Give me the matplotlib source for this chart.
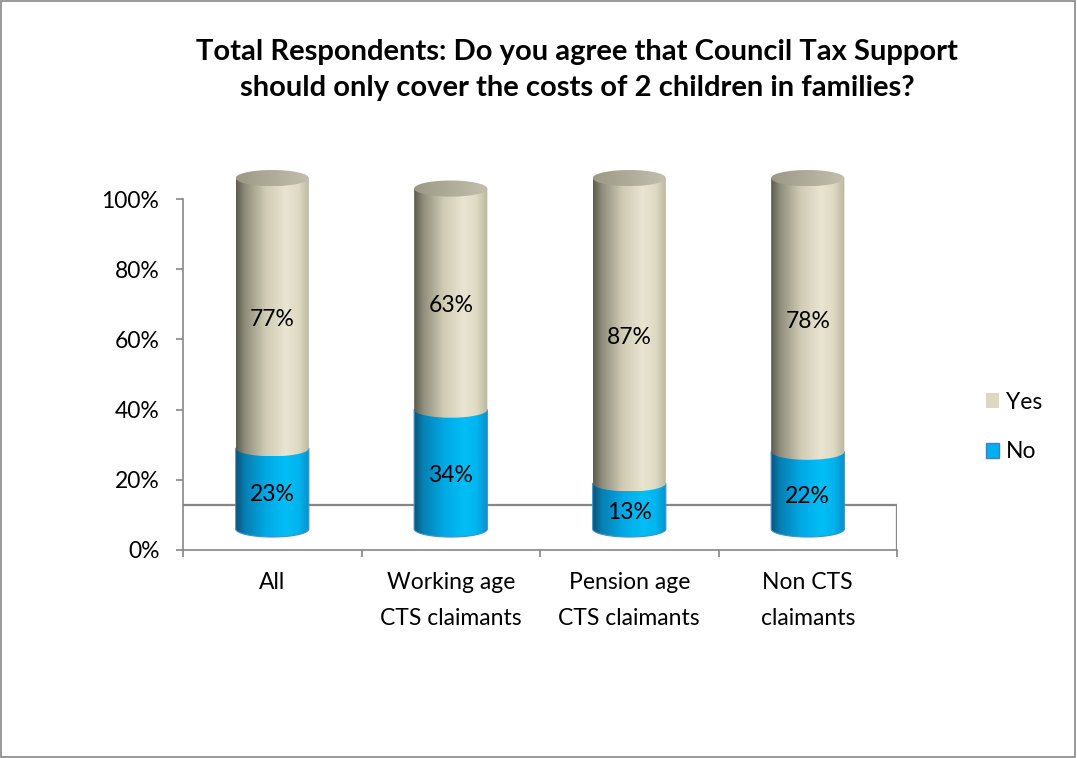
import numpy as np
import matplotlib
matplotlib.use("Agg")
import matplotlib.pyplot as plt
from matplotlib.path import Path
from matplotlib.patches import PathPatch, Patch, Rectangle
from matplotlib.colors import LinearSegmentedColormap

plt.rcParams['font.family'] = ['Lato', 'DejaVu Sans']

# Survey results (percent of respondents)
categories = ['All', 'Working age\nCTS claimants', 'Pension age\nCTS claimants', 'Non CTS\nclaimants']
no_values = [23, 34, 13, 22]
yes_values = [77, 63, 87, 78]
yticks = [0, 20, 40, 60, 80, 100]
title = ('Total Respondents: Do you agree that Council Tax Support\n'
         'should only cover the costs of 2 children in families?')

# 3D-ish look
BASE = 6.0        # cylinders sit a bit behind the front edge
FLOOR = 12.8      # back edge of the floor
BAR_W = 0.41
ELL_H = 4.6       # ellipse height in data units
AXIS_GREY = '#868686'
FS = 16.5

beige_cmap = LinearSegmentedColormap.from_list('beige', [
    (0.00, '#5c5b4e'), (0.12, '#8e8c7a'), (0.40, '#cfcbb4'),
    (0.68, '#e9e5d1'), (0.85, '#ddd9c3'), (1.00, '#b9b6a0')])
blue_cmap = LinearSegmentedColormap.from_list('blue', [
    (0.00, '#0b5478'), (0.12, '#077fb2'), (0.40, '#00a8e4'),
    (0.68, '#00bff6'), (0.85, '#00b4ee'), (1.00, '#0a8fc8')])
cap_cmap = LinearSegmentedColormap.from_list('cap', [
    (0.0, '#9c9a86'), (0.6, '#b3b19d'), (1.0, '#c2c0ad')])


def half_ellipse(xc, yc, w, h, n=60):
    t = np.linspace(np.pi, 2 * np.pi, n)
    return np.column_stack([xc + w / 2 * np.cos(t), yc + h / 2 * np.sin(t)])


def segment_path(xc, y_lo, y_hi, w, h):
    bottom = half_ellipse(xc, y_lo, w, h)
    verts = np.vstack([[xc - w / 2, y_hi], bottom, [xc + w / 2, y_hi], [xc - w / 2, y_hi]])
    codes = [Path.MOVETO] + [Path.LINETO] * (len(verts) - 2) + [Path.CLOSEPOLY]
    return Path(verts, codes)


def ellipse_path(xc, yc, w, h, n=120):
    t = np.linspace(0, 2 * np.pi, n)
    verts = np.column_stack([xc + w / 2 * np.cos(t), yc + h / 2 * np.sin(t)])
    return Path(verts, closed=True)


def shaded(ax, path, cmap, x0, x1, y0, y1, z):
    grad = np.linspace(0, 1, 256).reshape(1, -1)
    im = ax.imshow(grad, cmap=cmap, extent=[x0, x1, y0, y1], aspect='auto',
                   interpolation='bilinear', zorder=z)
    patch = PathPatch(path, facecolor='none', edgecolor='none', transform=ax.transData)
    ax.add_patch(patch)
    im.set_clip_path(patch)


fig = plt.figure(figsize=(10.77, 7.58), dpi=100)
ax = fig.add_axes([183 / 1077, 208 / 758, 714 / 1077, 393 / 758])

# floor outline behind the cylinders
ax.plot([-0.5, 3.5, 3.5], [FLOOR, FLOOR, 0], color=AXIS_GREY, lw=1.6, zorder=1,
        solid_joinstyle='miter')

for i in range(len(categories)):
    y = BASE
    segments = [(no_values[i], blue_cmap, '#3f8fd0'), (yes_values[i], beige_cmap, None)]
    for k, (v, cmap, edge) in enumerate(segments):
        z = 3 + k
        p = segment_path(i, y, y + v, BAR_W, ELL_H)
        shaded(ax, p, cmap, i - BAR_W / 2, i + BAR_W / 2, y - ELL_H / 2, y + v, z)
        if edge:
            ax.add_patch(PathPatch(p, facecolor='none', edgecolor=edge, lw=0.8, zorder=z))
        ax.text(i, y + v / 2 - 1.8, f'{v}%', ha='center', va='center',
                fontsize=FS, zorder=10)
        y += v
    # top cap of the stack
    cap = ellipse_path(i, y, BAR_W, ELL_H)
    shaded(ax, cap, cap_cmap, i - BAR_W / 2, i + BAR_W / 2, y - ELL_H / 2, y + ELL_H / 2, 6)

ax.set_xlim(-0.5, 3.5)
ax.set_ylim(0, 112)

for s in ['top', 'right']:
    ax.spines[s].set_visible(False)
for s in ['left', 'bottom']:
    ax.spines[s].set_color(AXIS_GREY)
    ax.spines[s].set_linewidth(1.2)
ax.spines['left'].set_bounds(0, 100)

ax.set_yticks(yticks)
ax.set_yticklabels([f'{t}%' for t in yticks], fontsize=FS)
ax.tick_params(axis='y', length=5, width=1.2, color=AXIS_GREY, pad=12)

ax.set_xticks(range(len(categories)))
ax.set_xticklabels(categories, fontsize=FS, linespacing=1.85)
ax.set_xticks(np.arange(-0.5, 4.0, 1.0), minor=True)
ax.tick_params(axis='x', which='major', length=0, pad=16)
ax.tick_params(axis='x', which='minor', length=5, width=1.2, color=AXIS_GREY)

handles = [Patch(facecolor='#dcd8c2', edgecolor='none', label='Yes'),
           Patch(facecolor='#00b0f0', edgecolor='#3f7fc8', lw=1, label='No')]
fig.legend(handles=handles, loc='center left', bbox_to_anchor=(965 / 1077, 1 - 427 / 758),
           frameon=False, fontsize=FS, handlelength=0.6, handleheight=0.6,
           handletextpad=0.3, labelspacing=1.25)

fig.text(577 / 1077, 1 - 70 / 758, title, ha='center', va='center',
         fontsize=21, fontweight='bold', linespacing=1.5)

fig.patches.append(Rectangle((0.0005, 0.0008), 0.998, 0.998, transform=fig.transFigure,
                             fill=False, edgecolor='#888888', lw=1.2))

fig.savefig('out.png', dpi=100)
